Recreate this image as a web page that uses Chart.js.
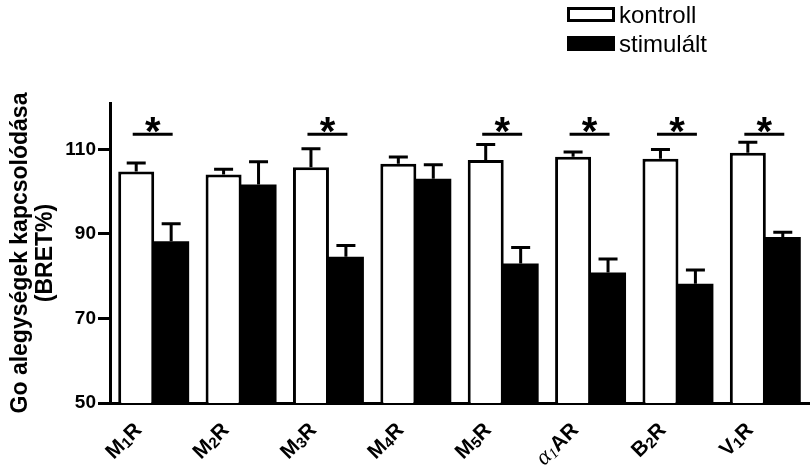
<!DOCTYPE html>
<html>
<head>
<meta charset="utf-8">
<script src="https://cdn.jsdelivr.net/npm/chart.js@4.4.1/dist/chart.umd.min.js"></script>
<style>
html, body { margin: 0; padding: 0; background: #fff; }
</style>
</head>
<body>
<canvas id="chart-bret" width="812" height="472"></canvas>
<script>
const receptors = ['M₁R', 'M₂R', 'M₃R', 'M₄R', 'M₅R', 'α₁AR', 'B₂R', 'V₁R'];
const kontroll = [104.8, 104.1, 105.8, 106.6, 107.5, 108.3, 107.8, 109.2];
const kontrollErr = [2.0, 1.2, 4.4, 1.6, 3.7, 1.1, 2.2, 2.5];
const stimulalt = [88.3, 101.7, 84.6, 103.1, 83.0, 80.9, 78.2, 89.3];
const stimulaltErr = [4.1, 5.4, 2.7, 3.3, 3.8, 3.2, 3.3, 1.1];
const significant = [true, false, true, false, true, true, true, true];
const sigLevel = 113.6;
const yTicks = [50, 70, 90, 110];

const FONT = "'Liberation Sans', Arial, sans-serif";
const SERIF = "'Liberation Serif', 'Times New Roman', serif";
const SUBS = '₀₁₂₃₄₅₆₇₈₉';

// error bars + significance marks
const errorBars = {
    id: 'errorBars',
    afterDatasetsDraw(chart) {
        const ctx = chart.ctx;
        const y = chart.scales.y;
        const errs = [kontrollErr, stimulaltErr];
        ctx.save();
        ctx.strokeStyle = '#000';
        ctx.lineWidth = 3;
        chart.data.datasets.forEach((ds, d) => {
            chart.getDatasetMeta(d).data.forEach((bar, i) => {
                const top = y.getPixelForValue(ds.data[i] + errs[d][i]);
                ctx.beginPath();
                ctx.moveTo(bar.x, bar.y);
                ctx.lineTo(bar.x, top);
                ctx.moveTo(bar.x - 9.5, top);
                ctx.lineTo(bar.x + 9.5, top);
                ctx.stroke();
            });
        });

        const kBars = chart.getDatasetMeta(0).data;
        const sBars = chart.getDatasetMeta(1).data;
        const ly = y.getPixelForValue(sigLevel);
        ctx.fillStyle = '#000';
        ctx.font = 'bold 40px ' + FONT;
        ctx.textAlign = 'center';
        ctx.textBaseline = 'alphabetic';
        significant.forEach((s, i) => {
            if (!s) return;
            const x0 = kBars[i].x - 3.5, x1 = sBars[i].x + 1.5;
            ctx.beginPath();
            ctx.moveTo(x0, ly);
            ctx.lineTo(x1, ly);
            ctx.stroke();
            ctx.fillText('*', (x0 + x1) / 2, ly + 11);
        });
        ctx.restore();
    }
};

// rotated category labels with subscripts
const receptorLabels = {
    id: 'receptorLabels',
    afterDraw(chart) {
        const ctx = chart.ctx;
        const x = chart.scales.x;
        const base = chart.chartArea.bottom + 28;
        ctx.save();
        ctx.fillStyle = '#000';
        ctx.textAlign = 'left';
        ctx.textBaseline = 'alphabetic';
        chart.data.labels.forEach((lab, i) => {
            const parts = [];
            let greek = false;
            for (const ch of lab) {
                const s = SUBS.indexOf(ch);
                if (ch === 'α') {
                    greek = true;
                    parts.push({ t: ch, font: 'italic 23px ' + SERIF, dy: 0 });
                } else if (s >= 0) {
                    parts.push({ t: String(s), font: (greek ? 'italic 15px ' + SERIF : 'bold 15px ' + FONT), dy: 2 });
                } else {
                    parts.push({ t: ch, font: 'bold 21px ' + FONT, dy: 0 });
                }
            }
            let total = 0;
            parts.forEach(p => { ctx.font = p.font; p.w = ctx.measureText(p.t).width; total += p.w; });
            ctx.save();
            ctx.translate(x.getPixelForValue(i) - 11, base);
            ctx.rotate(-Math.PI / 4);
            let cx = -total;
            parts.forEach(p => { ctx.font = p.font; ctx.fillText(p.t, cx, p.dy); cx += p.w; });
            ctx.restore();
        });
        ctx.restore();
    }
};

const legendBox = {
    id: 'legendBox',
    afterDraw(chart) {
        const ctx = chart.ctx;
        ctx.save();
        chart.data.datasets.forEach((ds, i) => {
            const top = 7 + i * 29;
            ctx.fillStyle = ds.backgroundColor;
            ctx.fillRect(567, top, 48, 15);
            ctx.strokeStyle = '#000';
            ctx.lineWidth = 3;
            ctx.strokeRect(568.5, top + 1.5, 45, 12);
            ctx.fillStyle = '#000';
            ctx.font = '24px ' + FONT;
            ctx.textAlign = 'left';
            ctx.textBaseline = 'alphabetic';
            ctx.fillText(ds.label, 619, top + 15.5);
        });
        ctx.restore();
    }
};

new Chart(document.getElementById('chart-bret'), {
    type: 'bar',
    data: {
        labels: receptors,
        datasets: [{
            label: 'kontroll',
            data: kontroll,
            backgroundColor: '#ffffff',
            borderColor: '#000000',
            borderWidth: 3,
        }, {
            label: 'stimulált',
            data: stimulalt,
            backgroundColor: '#000000',
            borderWidth: 0,
        }]
    },
    options: {
        responsive: false,
        animation: false,
        devicePixelRatio: 1,
        categoryPercentage: 0.8,
        barPercentage: 1.03,
        layout: { padding: { top: 103, right: 3, bottom: 0, left: 0 } },
        plugins: {
            legend: { display: false },
            tooltip: { enabled: false }
        },
        scales: {
            x: {
                grid: { display: false },
                ticks: { display: false },
                border: { color: '#000', width: 3 },
                afterFit(scale) { scale.height = 69; }
            },
            y: {
                min: 50,
                max: 121,
                afterBuildTicks(scale) { scale.ticks = yTicks.map(v => ({ value: v })); },
                afterFit(scale) { scale.width = 110; },
                grid: { drawOnChartArea: false, tickLength: 12, lineWidth: 3, color: '#000' },
                border: { color: '#000', width: 3 },
                ticks: {
                    color: '#000',
                    padding: 2,
                    font: { family: FONT, size: 19, weight: 'bold' }
                },
                title: {
                    display: true,
                    text: ['Go alegységek kapcsolódása', '(BRET%)'],
                    color: '#000',
                    font: { family: FONT, size: 23, weight: 'bold', lineHeight: 1.05 },
                    padding: { top: 9, bottom: 0 }
                }
            }
        }
    },
    plugins: [errorBars, receptorLabels, legendBox]
});
</script>
</body>
</html>
